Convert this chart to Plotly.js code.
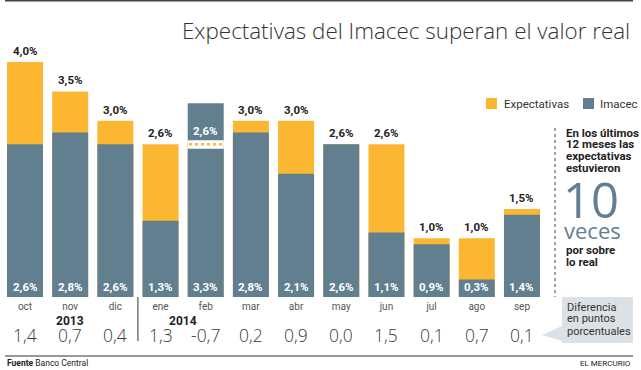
<!DOCTYPE html>
<html><head><meta charset="utf-8">
<script src="https://cdn.plot.ly/plotly-3.0.1.min.js"></script>
<style>html,body{margin:0;padding:0;background:#fff}#chart{width:641px;height:370px}</style>
</head><body><div id="chart"></div>
<script>
// ---- data ----
const months = ['oct','nov','dic','ene','feb','mar','abr','may','jun','jul','ago','sep'];
const expectativas = [4.0,3.5,3.0,2.6,2.6,3.0,3.0,2.6,2.6,1.0,1.0,1.5];
const imacec = [2.6,2.8,2.6,1.3,3.3,2.8,2.1,2.6,1.1,0.9,0.3,1.4];
const diferencia = [1.4,0.7,0.4,1.3,-0.7,0.2,0.9,0.0,1.5,0.1,0.7,0.1];
const years = [{label:'2013', pos:1}, {label:'2014', pos:3.5}];
const seriesNames = ['Expectativas','Imacec'];
const panelTop = ['En los últimos','12 meses las','expectativas','estuvieron'];
const panelBottom = ['por sobre','lo real'];
const noteLines = ['Diferencia','en puntos','porcentuales'];

// ---- style ----
const W = 641, H = 370, BASE = 297;
const YELLOW = '#FBB731', BLUE = '#627F8F';
const NARROW = '"Liberation Sans Narrow", "Roboto", sans-serif';
const LIGHT = '"Open Sans", "Lato", sans-serif';
const P = px => px / W;
const Q = py => (BASE - py) / BASE;
const fmt = v => v.toFixed(1).replace('.', ',');

const traces = [
  {type:'bar', name:seriesNames[0], x:months, y:expectativas, marker:{color:YELLOW}, width:0.797, opacity:1, hoverinfo:'skip'},
  {type:'bar', name:seriesNames[1], x:months, y:imacec, marker:{color:BLUE}, width:0.797, opacity:1, hoverinfo:'skip'}
];

const ann = [];
const shapes = [];

months.forEach((m, i) => {
  const e = expectativas[i], r = imacec[i];
  ann.push({x:m, y:0, xref:'x', yref:'y', text:'<b>'+fmt(r)+'%</b>', showarrow:false,
    yanchor:'bottom', yshift:1, font:{family:NARROW, size:11.5, color:'#ffffff'}});
  if (e < r) {
    ann.push({x:m, y:e, xref:'x', yref:'y', text:'<b>'+fmt(e)+'%</b>', showarrow:false,
      yanchor:'bottom', yshift:4, font:{family:NARROW, size:11.5, color:'#ffffff'}});
    shapes.push({type:'rect', xref:'x', yref:'y', x0:i-0.4, x1:i+0.4, y0:e-0.075, y1:e+0.07,
      fillcolor:'#ffffff', line:{width:0}, layer:'above'});
    shapes.push({type:'line', xref:'x', yref:'y', x0:i-0.37, x1:i+0.37, y0:e, y1:e,
      line:{color:YELLOW, width:2.5, dash:'dot'}, layer:'above'});
  } else {
    ann.push({x:m, y:Math.max(e, r), xref:'x', yref:'y', text:'<b>'+fmt(e)+'%</b>', showarrow:false,
      yanchor:'bottom', yshift:2, font:{family:NARROW, size:11.5, color:'#222'}});
  }
  ann.push({x:m, y:Q(335), xref:'x', yref:'paper', text:fmt(diferencia[i]), showarrow:false,
    yanchor:'middle', font:{family:LIGHT, size:17.5, color:'#3c3c3c', weight:300}});
});

years.forEach(yv => {
  ann.push({x:yv.pos, y:Q(320.5), xref:'x', yref:'paper', text:'<b>'+yv.label+'</b>', showarrow:false,
    yanchor:'middle', font:{family:NARROW, size:12, color:'#222'}});
});

shapes.push({type:'line', xref:'x', yref:'paper', x0:2.5, x1:2.5, y0:Q(297), y1:Q(341), line:{color:'#333', width:1}});

shapes.push({type:'line', xref:'paper', yref:'paper', x0:P(5), x1:P(633), y0:Q(0.8), y1:Q(0.8), line:{color:'#444', width:1.6}});
shapes.push({type:'line', xref:'paper', yref:'paper', x0:P(5), x1:P(633), y0:Q(356), y1:Q(356), line:{color:'#333', width:1}});

ann.push({x:P(632), y:Q(31), xref:'paper', yref:'paper', xanchor:'right', yanchor:'middle', showarrow:false,
  text:'Expectativas del Imacec superan el valor real', font:{family:LIGHT, size:22.4, color:'#333', weight:300}});

// legend (manual)
shapes.push({type:'rect', xref:'paper', yref:'paper', x0:P(486), x1:P(497), y0:Q(109), y1:Q(98), fillcolor:YELLOW, line:{width:0}});
shapes.push({type:'rect', xref:'paper', yref:'paper', x0:P(583), x1:P(594), y0:Q(109), y1:Q(98), fillcolor:BLUE, line:{width:0}});
ann.push({x:P(502), y:Q(103.5), xref:'paper', yref:'paper', xanchor:'left', yanchor:'middle', showarrow:false,
  text:seriesNames[0], font:{family:NARROW, size:11.5, color:'#333'}});
ann.push({x:P(598), y:Q(103.5), xref:'paper', yref:'paper', xanchor:'left', yanchor:'middle', showarrow:false,
  text:seriesNames[1], font:{family:NARROW, size:11.5, color:'#333'}});

// right panel
shapes.push({type:'line', xref:'paper', yref:'paper', x0:P(555), x1:P(555), y0:Q(128), y1:Q(297), line:{color:'#444', width:1, dash:'dot'}});
const lineAnn = (txt, px, py, size, color, bold) => ann.push({x:P(px), y:Q(py), xref:'paper', yref:'paper',
  xanchor:'left', yanchor:'middle', showarrow:false, text: bold ? '<b>'+txt+'</b>' : txt,
  font:{family:NARROW, size:size, color:color}});
panelTop.forEach((t, k) => lineAnn(t, 564, 133 + k*11.5, 11.5, '#222', true));
panelBottom.forEach((t, k) => lineAnn(t, 564, 250 + k*12, 11.5, '#222', true));
ann.push({x:P(561), y:Q(199), xref:'paper', yref:'paper', xanchor:'left', yanchor:'middle', showarrow:false,
  text:'10', font:{family:LIGHT, size:49, color:BLUE, weight:400}});
ann.push({x:P(562), y:Q(230), xref:'paper', yref:'paper', xanchor:'left', yanchor:'middle', showarrow:false,
  text:'veces', font:{family:LIGHT, size:22, color:BLUE, weight:400}});

// note box with arrow
shapes.push({type:'path', xref:'paper', yref:'paper',
  path:'M '+P(562)+' '+Q(297)+' L '+P(633)+' '+Q(297)+' L '+P(633)+' '+Q(343)+' L '+P(562)+' '+Q(343)+
       ' L '+P(562)+' '+Q(341)+' L '+P(542)+' '+Q(335)+' L '+P(562)+' '+Q(326)+' Z',
  fillcolor:'#DCE1E5', line:{width:0}});
noteLines.forEach((t, k) => lineAnn(t, 565, 307 + k*12, 11, '#333', false));

// footer
ann.push({x:P(5), y:Q(362.5), xref:'paper', yref:'paper', xanchor:'left', yanchor:'middle', showarrow:false,
  text:'<b>Fuente</b> Banco Central', font:{family:NARROW, size:8.5, color:'#222'}});
ann.push({x:P(633), y:Q(363), xref:'paper', yref:'paper', xanchor:'right', yanchor:'middle', showarrow:false,
  text:'EL MERCURIO', font:{family:NARROW, size:8, color:'#222'}});

const layout = {
  width:W, height:H,
  margin:{l:0, r:0, t:0, b:H-BASE, pad:0, autoexpand:false},
  paper_bgcolor:'#fff', plot_bgcolor:'#fff',
  barmode:'overlay', showlegend:false,
  xaxis:{type:'category', range:[-25/45.18, (W-25)/45.18], showgrid:false, zeroline:false, showline:false,
    ticks:'', ticklabelstandoff:2, tickfont:{family:NARROW, size:10, color:'#555'}, fixedrange:true},
  yaxis:{range:[0, BASE/58.75], showgrid:false, zeroline:false, showline:false, showticklabels:false, fixedrange:true},
  annotations:ann, shapes:shapes
};
Plotly.newPlot('chart', traces, layout, {staticPlot:true, displayModeBar:false});
</script></body></html>
